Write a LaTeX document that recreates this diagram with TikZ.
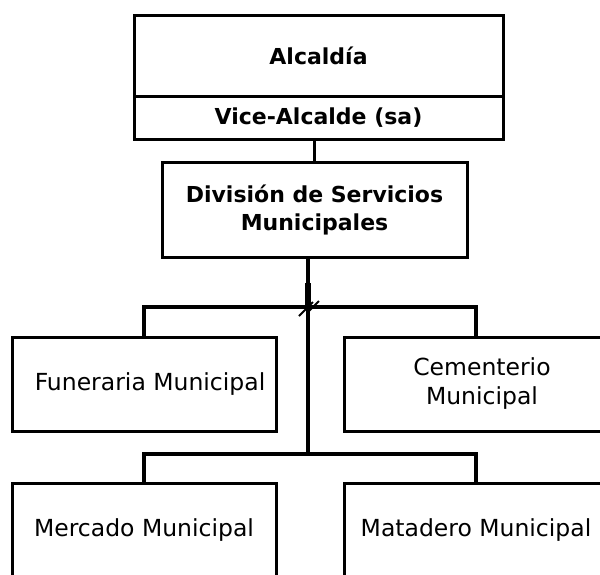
\documentclass[tikz,border=0pt]{standalone}
\usepackage{fontspec}
\setmainfont{DejaVu Sans}
\usetikzlibrary{positioning}

\begin{document}
\begin{tikzpicture}[
        x=1pt, y=-1pt,
        box/.style={draw, line width=3pt, inner sep=0pt, align=center},
        headbox/.style={box, font=\fontsize{22}{28}\selectfont\bfseries},
        unitbox/.style={box, minimum width=264pt, minimum height=94pt, font=\fontsize{23.5}{29}\selectfont},
        link/.style={line width=3.5pt},
        ]

        \useasboundingbox (0,0) rectangle (600,574);
        \clip (0,0) rectangle (600,574);

        % alcaldia
        \node[headbox, minimum width=369pt, minimum height=81pt] (alcaldia) at (318.5,55.5) {Alcaldía};
        \node[headbox, minimum width=369pt, minimum height=43pt] (vice) at (318.5,117.5) {Vice-Alcalde (sa)};
        \node[headbox, minimum width=305pt, minimum height=95pt] (division) at (314.5,209.5) {División de Servicios\\Municipales};

        % unidades
        \node[unitbox] (funeraria)  at (144,384)   {\hspace*{12pt}Funeraria Municipal};
        \node[unitbox] (cementerio) at (476,384)   {\hspace*{12pt}Cementerio\\\hspace*{12pt}Municipal};
        \node[unitbox, minimum height=95pt] (mercado)  at (144,530.5) {Mercado Municipal};
        \node[unitbox, minimum height=95pt] (matadero) at (476,530.5) {Matadero Municipal};

        \coordinate (hub) at (308,307);
        \coordinate (hubb) at (308,454);

        \draw[link] (division.north) -- (division.north |- vice.south);
        \draw[link] (hub |- division.south) -- (hubb);
        \draw[line width=5.5pt] (308,283) -- (hub);
        \draw[link] (funeraria.north) |- (hub) -| (cementerio.north);
        \draw[link] (mercado.north) |- (hubb) -| (matadero.north);
        % double slash
        \draw[line width=2pt] ([shift={(-9,9)}]hub) -- ([shift={(5,-5)}]hub);
        \draw[line width=2pt] ([shift={(-1,6)}]hub) -- ([shift={(11,-6)}]hub);
\end{tikzpicture}
\end{document}
